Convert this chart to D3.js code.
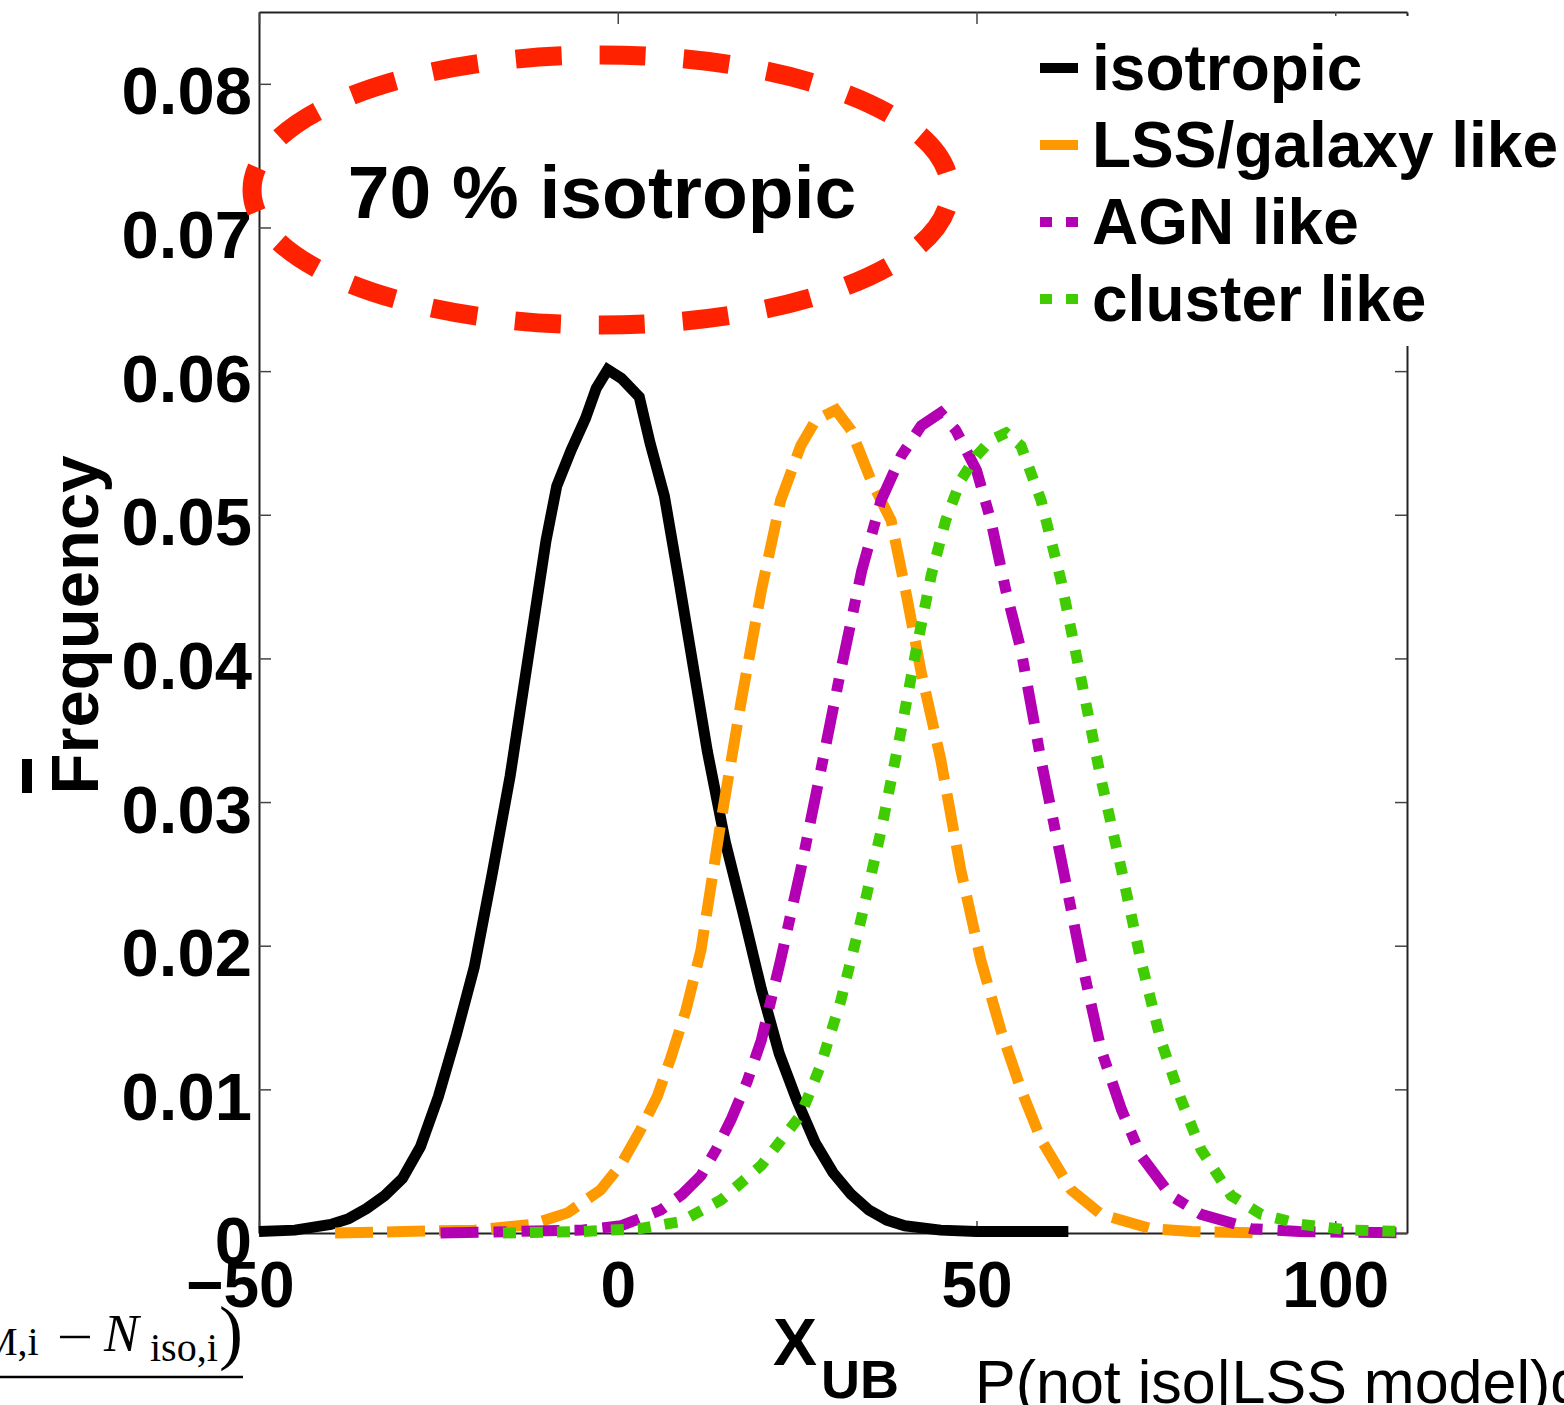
<!DOCTYPE html>
<html>
<head>
<meta charset="utf-8">
<script src="https://cdnjs.cloudflare.com/ajax/libs/d3/7.8.5/d3.min.js"></script>
<style>
  body { margin: 0; background: #fff; }
  svg { display: block; }
  .bold { font-family: "Liberation Sans", Arial, Helvetica, sans-serif; font-weight: bold; }
</style>
</head>
<body>
<svg id="chart" width="1564" height="1405"></svg>
<script>
'use strict';

// ---- data: [X_UB, frequency] ----
var isotropic = [
    [-50, 0.0001], [-45, 0.0002], [-40, 0.0006], [-37.5, 0.001], [-35, 0.0017],
    [-32.5, 0.0026], [-30, 0.0038], [-27.5, 0.006], [-25, 0.0095], [-22.5, 0.0138],
    [-20, 0.0185], [-17.5, 0.025], [-15, 0.0318], [-12.5, 0.04], [-10, 0.0482],
    [-8.5, 0.052], [-6.5, 0.0545], [-4.5, 0.0567], [-3, 0.0588], [-1.4, 0.0601],
    [0.5, 0.0595], [3, 0.0582], [4.5, 0.055], [6.5, 0.0513], [8.5, 0.0455],
    [10, 0.041], [12.5, 0.0335], [15, 0.0272], [17.5, 0.0222], [20, 0.017],
    [22.5, 0.0125], [25, 0.0092], [27.5, 0.0063], [30, 0.0042], [32.5, 0.0027],
    [35, 0.0016], [37.5, 0.0009], [40, 0.0005], [45, 0.0002], [50, 0.0001],
    [55, 0.0001], [62.8, 0.0001]
];

var lssGalaxy = [
    [-39.4, 0], [-30, 0.0001], [-20, 0.0002], [-12, 0.0006], [-7, 0.0014],
    [-2.4, 0.003], [0.5, 0.0048], [3.2, 0.0072], [5.5, 0.0095], [7.4, 0.0122],
    [9.5, 0.0155], [11.6, 0.0197], [14.4, 0.0287], [17.2, 0.037], [20, 0.0447],
    [22.7, 0.051], [25.5, 0.0548], [27.6, 0.0566], [30.4, 0.0573], [32.5, 0.0559],
    [35.3, 0.0524], [38.1, 0.0496], [40.2, 0.0445], [42.3, 0.039], [45, 0.033],
    [47.8, 0.0253], [50.6, 0.019], [53.4, 0.0141], [56.2, 0.01], [59, 0.0065],
    [63.2, 0.003], [67.4, 0.0013], [74.3, 0.0003], [80, 0.0001], [90, 0]
];

var agnLike = [
    [-24.7, 0], [-15, 0.0001], [-5, 0.0002], [0.4, 0.0005], [3, 0.001],
    [6, 0.0016], [9, 0.0027], [11.6, 0.004], [13.7, 0.0058], [15.8, 0.0079],
    [18, 0.0105], [20, 0.0134], [22.7, 0.019], [25.5, 0.0253], [28.3, 0.0322],
    [31.1, 0.0392], [34, 0.0461], [36.7, 0.051], [39.5, 0.0541], [42.3, 0.0562],
    [45, 0.0571], [47.1, 0.0559], [50, 0.0531], [52, 0.0496], [54.1, 0.0447],
    [56.2, 0.0406], [59, 0.0329], [61.8, 0.026], [64.6, 0.019], [67.4, 0.0127],
    [70.2, 0.0086], [72.9, 0.0054], [77.1, 0.0026], [81.3, 0.0013], [88.3, 0.0003],
    [95, 0.0001], [110, 0]
];

var clusterLike = [
    [-16, 0], [-5, 0.0001], [3, 0.0003], [8.8, 0.0008], [14.4, 0.0023],
    [20, 0.0047], [25.5, 0.0082], [28.3, 0.0117], [31.1, 0.0162], [33.9, 0.0218],
    [36.7, 0.028], [39.5, 0.035], [41.6, 0.0406], [43.7, 0.0458], [45.7, 0.0496],
    [47.8, 0.0524], [50, 0.0541], [52, 0.0552], [54.1, 0.0557], [56.2, 0.0548],
    [59, 0.051], [61.8, 0.0454], [64.6, 0.0385], [67.4, 0.0315], [70.2, 0.0253],
    [72.9, 0.019], [75.7, 0.0134], [78.5, 0.0093], [81.3, 0.0058], [85.5, 0.0026],
    [89.7, 0.0013], [95.3, 0.0006], [102, 0.0002], [110, 0.0001]
];

var seriesNames = ["isotropic", "LSS/galaxy like", "AGN like", "cluster like"];
var xTicks = [-50, 0, 50, 100];
var yTicks = [0, 0.01, 0.02, 0.03, 0.04, 0.05, 0.06, 0.07, 0.08];
var xDomain = [-50, 110];
var yDomain = [0, 0.085];
var annotation = "70 % isotropic";

(function() {
    // ---- layout ----
    var boxL = 259, boxR = 1407, boxT = 12, boxB = 1233;

    var svg = d3.select("#chart");
    var x = d3.scaleLinear().domain(xDomain).range([boxL, boxR]);
    var y = d3.scaleLinear().domain(yDomain).range([boxB, boxT]);

    var series = [
        { name: seriesNames[0], data: isotropic,   color: "#000000", dash: null,          legDash: null },
        { name: seriesNames[1], data: lssGalaxy,   color: "#ff9900", dash: "38,14",       legDash: null },
        { name: seriesNames[2], data: agnLike,     color: "#b300b3", dash: "38,15,13,15", legDash: "12,14" },
        { name: seriesNames[3], data: clusterLike, color: "#40cc00", dash: "13,14",       legDash: "12,14" }
    ];

    var tickFmt = function(d) { return d === 0 ? "0" : d3.format(".2f")(d); };

    // axes (MATLAB box with inward ticks)
    var styleAxis = function(g) {
        g.selectAll("path.domain").attr("stroke", "#222").attr("stroke-width", 2);
        g.selectAll(".tick line").attr("stroke", "#444").attr("stroke-width", 1.5);
    };

    svg.append("g")
        .attr("transform", "translate(" + boxL + ",0)")
        .call(d3.axisLeft(y).tickValues(yTicks).tickSize(-12).tickSizeOuter(0)
              .tickPadding(7).tickFormat(tickFmt))
        .call(styleAxis)
        .call(function(g) {
            g.selectAll("text").attr("class", "bold").attr("font-size", 67)
                .attr("fill", "#000").attr("dy", "0.45em");
        });

    svg.append("g")
        .attr("transform", "translate(0," + boxB + ")")
        .call(d3.axisBottom(x).tickValues(xTicks).tickSize(-12).tickSizeOuter(0).tickPadding(29))
        .call(styleAxis)
        .call(function(g) {
            g.selectAll("text").attr("class", "bold").attr("font-size", 64).attr("fill", "#000")
                .attr("dx", function(d) { return d < 0 ? "-0.3em" : 0; });
        });

    svg.append("g")
        .attr("transform", "translate(0," + boxT + ")")
        .call(d3.axisTop(x).tickValues(xTicks).tickSize(-12).tickSizeOuter(0).tickFormat(""))
        .call(styleAxis);

    svg.append("g")
        .attr("transform", "translate(" + boxR + ",0)")
        .call(d3.axisRight(y).tickValues(yTicks).tickSize(-12).tickSizeOuter(0).tickFormat(""))
        .call(styleAxis);

    // curves
    var line = d3.line()
        .x(function(d) { return x(d[0]); })
        .y(function(d) { return y(d[1]); });

    svg.append("g").selectAll("path")
        .data(series)
        .enter().append("path")
        .attr("d", function(s) { return line(s.data); })
        .attr("fill", "none")
        .attr("stroke", function(s) { return s.color; })
        .attr("stroke-width", 11)
        .attr("stroke-dasharray", function(s) { return s.dash; })
        .attr("stroke-linejoin", "miter");

    // legend, white box on top of the frame
    var legend = svg.append("g");
    legend.append("rect")
        .attr("x", 1025).attr("y", 16).attr("width", 560).attr("height", 330)
        .attr("fill", "#fff");

    var legRow = legend.selectAll("g.row")
        .data(series)
        .enter().append("g")
        .attr("class", "row")
        .attr("transform", function(s, i) { return "translate(1040," + (90 + i * 77) + ")"; });

    legRow.append("line")
        .attr("x1", 0).attr("x2", 38)
        .attr("y1", -22).attr("y2", -22)
        .attr("stroke", function(s) { return s.color; })
        .attr("stroke-width", 10)
        .attr("stroke-dasharray", function(s) { return s.legDash; });

    legRow.append("text")
        .attr("class", "bold")
        .attr("x", 52)
        .attr("font-size", 64)
        .text(function(s) { return s.name; });

    // annotation: dashed red ellipse
    svg.append("ellipse")
        .attr("cx", 601).attr("cy", 190).attr("rx", 349).attr("ry", 135)
        .attr("fill", "none")
        .attr("stroke", "#ff2200")
        .attr("stroke-width", 19)
        .attr("stroke-dasharray", "46,38")
        .attr("stroke-dashoffset", 65);

    svg.append("text")
        .attr("class", "bold")
        .attr("x", 602).attr("y", 218)
        .attr("text-anchor", "middle")
        .attr("font-size", 75)
        .text(annotation);

    // axis labels
    var ylab = svg.append("g").attr("transform", "translate(98,625) rotate(-90)");
    ylab.append("text")
        .attr("class", "bold")
        .attr("text-anchor", "middle")
        .attr("font-size", 67)
        .text("Frequency");
    ylab.append("rect")
        .attr("x", -168).attr("y", -76).attr("width", 34).attr("height", 10)
        .attr("fill", "#000");

    var xlab = svg.append("text")
        .attr("class", "bold")
        .attr("x", 773).attr("y", 1365)
        .attr("font-size", 66);
    xlab.append("tspan").text("X");
    xlab.append("tspan").attr("dx", 4).attr("dy", 33).attr("font-size", 54).text("UB");

    // fragments of the surrounding slide
    var frag = svg.append("g").attr("font-family", "'Liberation Serif', 'DejaVu Serif', serif");
    frag.append("text").attr("x", -18).attr("y", 1355).attr("font-size", 40).text("M,i");
    frag.append("line")
        .attr("x1", 60).attr("x2", 90).attr("y1", 1337).attr("y2", 1337)
        .attr("stroke", "#000").attr("stroke-width", 2.5);
    frag.append("text").attr("x", 104).attr("y", 1351).attr("font-size", 52)
        .attr("font-style", "italic").text("N");
    frag.append("text").attr("x", 150).attr("y", 1361).attr("font-size", 40).text("iso,i");
    frag.append("text").attr("x", 219).attr("y", 1356).attr("font-size", 72).text(")");
    frag.append("line")
        .attr("x1", 0).attr("x2", 243).attr("y1", 1377).attr("y2", 1377)
        .attr("stroke", "#000").attr("stroke-width", 2.5);

    svg.append("text")
        .attr("x", 975).attr("y", 1403)
        .attr("font-family", "'Liberation Sans', Arial, sans-serif")
        .attr("font-weight", 300)
        .attr("font-size", 61)
        .text("P(not iso|LSS model)gal");
})();
</script>
</body>
</html>
